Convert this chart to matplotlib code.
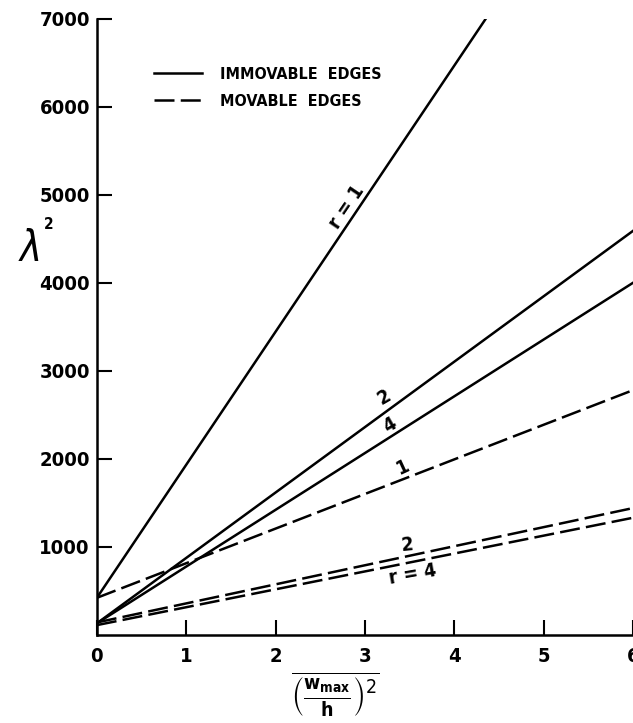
import matplotlib

matplotlib.use("Agg")
import matplotlib.pyplot as plt

# values (x = (w_max/h)^2, y = lambda^2)
x_pts = [0.0, 3.0, 6.0]
imm_r1 = [420, 4956, 9492]
imm_r2 = [130, 2360, 4590]
imm_r4 = [130, 2065, 4000]
mov_r1 = [420, 1600, 2780]
mov_r2 = [140, 790, 1440]
mov_r4 = [110, 720, 1330]

x_ticks = [0, 1, 2, 3, 4, 5, 6]
y_ticks = [1000, 2000, 3000, 4000, 5000, 6000, 7000]

plt.rcParams["font.family"] = ["DejaVu Sans"]
plt.rcParams["font.stretch"] = "condensed"
plt.rcParams["mathtext.fontset"] = "dejavusans"

fig = plt.figure(figsize=(6.33, 7.23), dpi=100)
ax = fig.add_axes([0.153, 0.122, 0.847, 0.852])

lw = 1.8
dash = (8, 2.5)
ax.plot(x_pts, imm_r1, color="black", lw=lw, label="IMMOVABLE  EDGES")
ax.plot(x_pts, imm_r2, color="black", lw=lw)
ax.plot(x_pts, imm_r4, color="black", lw=lw)
ax.plot(x_pts, mov_r1, color="black", lw=lw, dashes=dash, label="MOVABLE  EDGES")
ax.plot(x_pts, mov_r2, color="black", lw=lw, dashes=dash)
ax.plot(x_pts, mov_r4, color="black", lw=lw, dashes=dash)

ax.set_xlim(0, 6)
ax.set_ylim(0, 7000)
ax.set_xticks(x_ticks)
ax.set_yticks(y_ticks)
ax.tick_params(direction="in", length=11, width=1.5, labelsize=14.5, pad=5)
ax.tick_params(axis="x", pad=9)
for lab in ax.get_xticklabels() + ax.get_yticklabels():
    lab.set_fontweight("bold")
ax.spines["top"].set_visible(False)
ax.spines["right"].set_visible(False)
ax.spines["left"].set_linewidth(1.8)
ax.spines["bottom"].set_linewidth(1.8)

ax.legend(loc="upper left", bbox_to_anchor=(0.08, 0.945), frameon=False,
          handlelength=3.0, handletextpad=1.1, labelspacing=0.75,
          prop={"family": "DejaVu Sans", "stretch": "condensed", "weight": "bold", "size": 11.5})

# curve labels
lbl = dict(fontsize=14, fontweight="bold", ha="center", va="center")
ax.text(2.80, 4864, "r = 1", rotation=56, **lbl)
ax.text(3.22, 2705, "2", rotation=30, **lbl)
ax.text(3.28, 2386, "4", rotation=30, **lbl)
ax.text(3.42, 1898, "1", rotation=25, **lbl)
ax.text(3.47, 1023, "2", rotation=5, **lbl)
ax.text(3.54, 682, "r = 4", rotation=10, **lbl)

# y label: lambda squared
fig.text(0.045, 0.655, r"$\lambda$", fontsize=30, ha="center", va="center")
fig.text(0.077, 0.690, "2", fontsize=11, fontweight="bold", ha="center", va="center")
fig.text(0.53, 0.074, r"$\overline{\left(\frac{\mathbf{w_{max}}}{\mathbf{h}}\right)^2}$",
         fontsize=20, ha="center", va="top")

fig.savefig("out.png", dpi=100)
